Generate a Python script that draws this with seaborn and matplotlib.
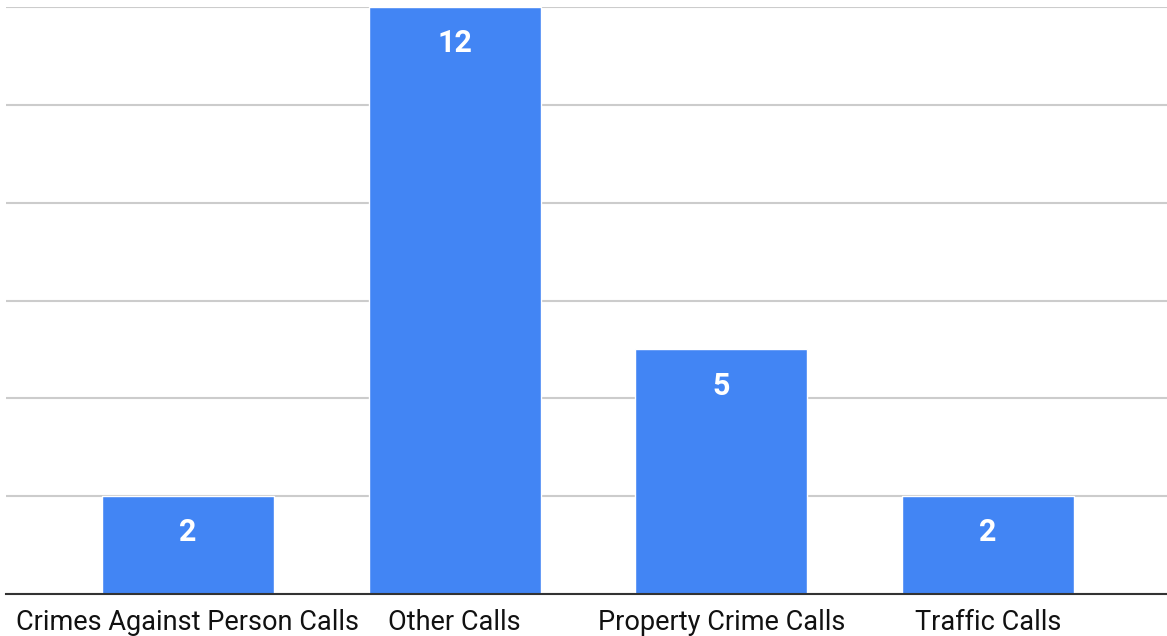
import matplotlib
matplotlib.use("Agg")
import matplotlib.pyplot as plt
import seaborn as sns
import pandas as pd

# Data
categories = ["Crimes Against Person Calls", "Other Calls", "Property Crime Calls", "Traffic Calls"]
counts = [2, 12, 5, 2]
y_ticks = [0, 2, 4, 6, 8, 10, 12]

df = pd.DataFrame({"Category": categories, "Calls": counts})

sns.set_theme(style="white")
plt.rcParams["font.family"] = ["Roboto", "DejaVu Sans"]

fig = plt.figure(figsize=(11.67, 6.36), dpi=100)
ax = fig.add_axes([0.005, 0.066, 0.995, 0.923])

sns.barplot(
    x="Category",
    y="Calls",
    data=df,
    color="#4285F4",
    saturation=1,
    width=0.645,
    ax=ax,
    zorder=3
)

# Value labels inside bars
for patch, value in zip(ax.patches, counts):
    ax.annotate(
        str(value),
        (patch.get_x() + patch.get_width() / 2, patch.get_height()),
        xytext=(0, -26),
        textcoords="offset points",
        ha="center",
        va="center",
        color="white",
        fontsize=22,
        fontweight="bold"
    )

ax.set_ylim(0, 12)
ax.set_xlim(-0.683, 3.672)
ax.set_yticks(y_ticks)
ax.set_yticklabels([])
ax.yaxis.grid(True, color="#cccccc", linewidth=1.5, zorder=0)
ax.set_axisbelow(True)

ax.set_xlabel("")
ax.set_ylabel("")
ax.tick_params(axis="x", length=0, pad=11, labelsize=19.5, labelcolor="#111111")
ax.tick_params(axis="y", length=0)

for side in ["top", "right", "left"]:
    ax.spines[side].set_visible(False)
ax.spines["bottom"].set_color("#333333")
ax.spines["bottom"].set_linewidth(1.5)
ax.spines["bottom"].set_zorder(4)

plt.savefig("out.png", dpi=100)
